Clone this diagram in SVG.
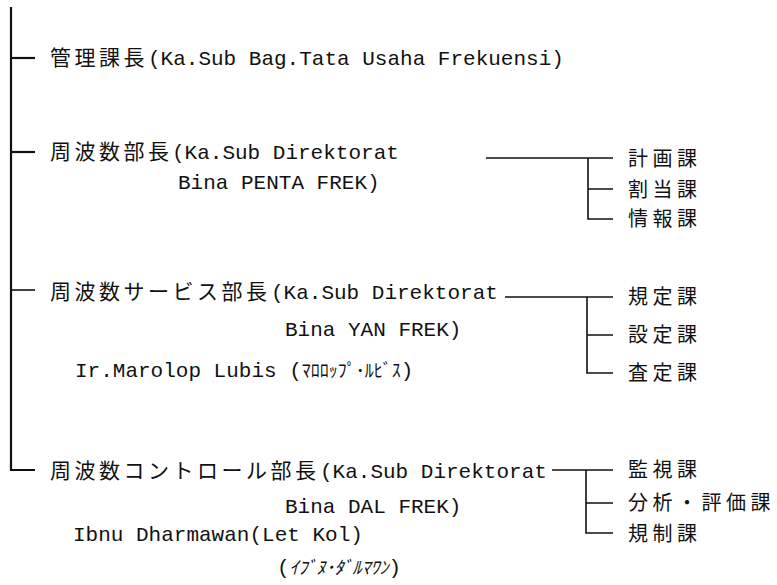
<svg xmlns="http://www.w3.org/2000/svg" width="777" height="585" viewBox="0 0 777 585">
<style>
  text { fill: #111; }
  .jp { font-family: "Noto Sans CJK JP", "Noto Sans CJK SC", sans-serif; font-size: 21px; letter-spacing: 3.5px; }
  .mono { font-family: "Liberation Mono", "DejaVu Sans Mono", monospace; font-size: 21px; letter-spacing: 0; }
  .kana { font-family: "Noto Sans CJK JP", sans-serif; font-size: 18px; letter-spacing: 0; }
  .sub { font-family: "Noto Sans CJK JP", "Noto Sans CJK SC", sans-serif; font-size: 20px; letter-spacing: 4.5px; }
  .ln { stroke: #111; stroke-width: 1.6; fill: none; }
  .main { stroke: #111; stroke-width: 2.2; fill: none; }
</style>
<rect width="777" height="585" fill="#fff"/>
<g id="connectors">
  <path class="main" d="M11 7 V470 H35"/>
  <path class="main" d="M11 58 H35"/>
  <path class="main" d="M11 152 H35"/>
  <path class="ln" d="M11 290 H35"/>
  <path class="ln" d="M486 158 H613 M588 158 V219 H613 M588 189 H613"/>
  <path class="ln" d="M505 297 H613 M587 297 V373 H613 M587 335 H613"/>
  <path class="ln" d="M552 470 H613 M586 470 V533 H613 M586 503 H613"/>
</g>
<g id="kanri">
  <text y="65"><tspan class="jp" x="50">管理課長</tspan><tspan class="mono" x="148">(Ka.Sub Bag.Tata Usaha Frekuensi)</tspan></text>
</g>
<g id="shuhasu">
  <text y="159"><tspan class="jp" x="50">周波数部長</tspan><tspan class="mono" x="172">(Ka.Sub Direktorat</tspan></text>
  <text class="mono" x="178" y="189">Bina PENTA FREK)</text>
</g>
<g id="keikaku"><text class="sub" x="628" y="166">計画課</text></g>
<g id="wariate"><text class="sub" x="628" y="197">割当課</text></g>
<g id="joho"><text class="sub" x="628" y="226">情報課</text></g>
<g id="service">
  <text y="299"><tspan class="jp" x="50">周波数サービス部長</tspan><tspan class="mono" x="271">(Ka.Sub Direktorat</tspan></text>
  <text class="mono" x="285" y="336">Bina YAN FREK)</text>
  <text y="377"><tspan class="mono" x="75">Ir.Marolop Lubis (</tspan><tspan class="kana">ﾏﾛﾛｯﾌﾟ･ﾙﾋﾞｽ</tspan><tspan class="mono">)</tspan></text>
</g>
<g id="kitei"><text class="sub" x="628" y="304">規定課</text></g>
<g id="settei"><text class="sub" x="628" y="342">設定課</text></g>
<g id="satei"><text class="sub" x="628" y="380">査定課</text></g>
<g id="control">
  <text y="478"><tspan class="jp" x="50">周波数コントロール部長</tspan><tspan class="mono" x="320">(Ka.Sub Direktorat</tspan></text>
  <text class="mono" x="285" y="513">Bina DAL FREK)</text>
  <text class="mono" x="73" y="541">Ibnu Dharmawan(Let Kol)</text>
  <text y="574"><tspan class="mono" x="277">(</tspan><tspan class="kana" font-size="20" font-style="italic">ｲﾌﾞﾇ･ﾀﾞﾙﾏﾜﾝ</tspan><tspan class="mono">)</tspan></text>
</g>
<g id="kanshi"><text class="sub" x="628" y="477">監視課</text></g>
<g id="bunseki"><text class="sub" x="628" y="510">分析・評価課</text></g>
<g id="kisei"><text class="sub" x="628" y="541">規制課</text></g>
</svg>
